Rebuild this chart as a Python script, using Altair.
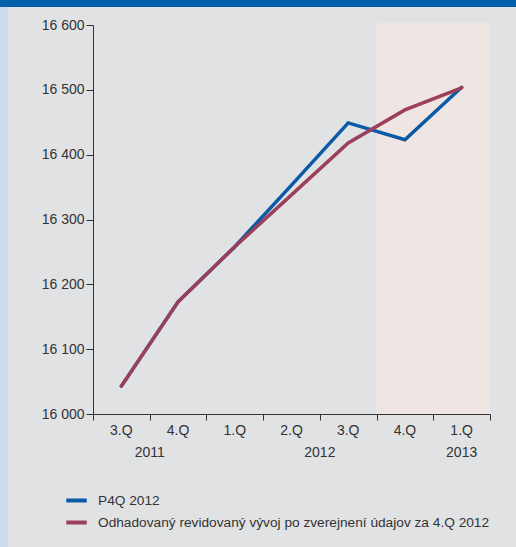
import altair as alt
import pandas as pd

# Quarter labels, year of each quarter and the two series (employment, thousands)
quarters = ["3.Q", "4.Q", "1.Q", "2.Q", "3.Q", "4.Q", "1.Q"]
years = ["2011", "2011", "2012", "2012", "2012", "2012", "2013"]
p4q = [16043, 16173, 16258, 16353, 16449, 16423, 16504]
revised = [16043, 16173, 16258, 16338, 16418, 16469, 16503]

series_names = ["P4Q 2012", "Odhadovaný revidovaný vývoj po zverejnení údajov za 4.Q 2012"]
series_colors = ["#0A5AA5", "#9C3F5B"]

# Forecast period shading (from 4.Q 2012 to the end)
shade_start = [5]
shade_end = [7]

W, H = 397, 389
FONT = "Liberation Sans"
TEXT = "#333333"

rows = []
for name, vals in zip(series_names, [p4q, revised]):
    for i, (q, y, v) in enumerate(zip(quarters, years, vals)):
        rows.append({"series": name, "pos": i + 0.5, "quarter": q, "year": y, "value": v})
lines_df = pd.DataFrame(rows)

labels_df = pd.DataFrame({"pos": [i + 0.5 for i in range(len(quarters))],
                          "quarter": quarters, "year": years})
shade_df = pd.DataFrame({"x0": shade_start, "x1": shade_end})

x_scale = alt.Scale(domain=[0, 7], nice=False, zero=False)
y_scale = alt.Scale(domain=[16000, 16600], nice=False, zero=False)

# Decorative frame: top band and left strip
frame_top = alt.Chart(pd.DataFrame({"k": [0]})).mark_rect(color="#0060AA", clip=False).encode(
    x=alt.value(-93), x2=alt.value(W + 26), y=alt.value(-25), y2=alt.value(-18)
)
frame_left = alt.Chart(pd.DataFrame({"k": [0]})).mark_rect(color="#CADCEE", clip=False).encode(
    x=alt.value(-93), x2=alt.value(-85), y=alt.value(-18), y2=alt.value(H + 133)
)

shade = alt.Chart(shade_df).mark_rect(color="#EFE5E3", clip=False).encode(
    x=alt.X("x0:Q", scale=x_scale,
            axis=alt.Axis(values=list(range(8)), labels=False, tickSize=6, title=None,
                          domainColor=TEXT, tickColor=TEXT, grid=False, domainWidth=1)),
    x2="x1:Q",
    y=alt.value(-2),
    y2=alt.value(H),
)

lines = alt.Chart(lines_df).mark_line(strokeWidth=3.5, strokeCap="round", strokeJoin="miter").encode(
    x=alt.X("pos:Q", scale=x_scale),
    y=alt.Y("value:Q", scale=y_scale,
            axis=alt.Axis(values=list(range(16000, 16601, 100)), tickSize=7, title=None,
                          labelExpr="replace(format(datum.value, ','), ',', ' ')",
                          labelFont=FONT, labelFontSize=14, labelColor=TEXT, labelPadding=2,
                          domainColor=TEXT, tickColor=TEXT, grid=False)),
    color=alt.Color("series:N", sort=series_names,
                    scale=alt.Scale(domain=series_names, range=series_colors),
                    legend=alt.Legend(title=None, orient="none", legendX=-29, legendY=463,
                                      symbolType="stroke", symbolStrokeWidth=4, symbolSize=420,
                                      labelFont=FONT, labelFontSize=13.7, labelColor=TEXT,
                                      labelLimit=600, rowPadding=1, labelOffset=9)),
    order=alt.Order("order:Q"),
).transform_calculate(order=f"indexof({series_names}, datum.series)")

quarter_text = alt.Chart(labels_df).mark_text(font=FONT, fontSize=14, color=TEXT, baseline="middle").encode(
    x=alt.X("pos:Q", scale=x_scale), y=alt.value(H + 17), text="quarter:N"
)

year_text = alt.Chart(labels_df).transform_aggregate(
    pos="mean(pos)", groupby=["year"]
).mark_text(font=FONT, fontSize=14, color=TEXT, baseline="middle").encode(
    x=alt.X("pos:Q", scale=x_scale), y=alt.value(H + 39), text="year:N"
)

chart = alt.layer(frame_top, frame_left, shade, lines, quarter_text, year_text).properties(
    width=W, height=H,
    autosize=alt.AutoSizeParams(type="none"),
    padding={"left": 93, "top": 25, "right": 26, "bottom": 133},
    background="#E1E2E4",
).configure_view(stroke=None).configure_axis(labelFont=FONT)

chart.save("out.html", embed_options={"renderer": "svg", "actions": False})
